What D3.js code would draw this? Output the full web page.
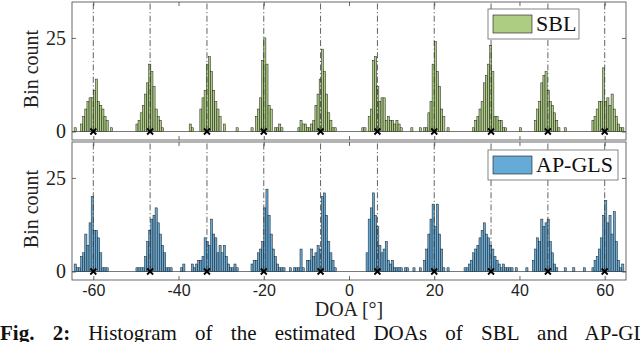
<!DOCTYPE html>
<html>
<head>
<meta charset="utf-8">
<script src="https://cdn.jsdelivr.net/npm/d3@7"></script>
<style>
  body { margin: 0; background: #fff; }
  svg { display: block; }
</style>
</head>
<body>
<svg width="640" height="342"></svg>
<script>
var width = 640;
var height = 342;
var binWidth = 0.5;

// true source directions (dash-dot lines and x markers)
var trueDoas = [-60, -46.67, -33.33, -20, -6.67, 6.67, 20, 33.33, 46.67, 60];
var xTicks = [-60, -40, -20, 0, 20, 40, 60];
var yTicks = [0, 25];

// histogram clusters: left edge of first bin, then counts per 0.5 deg bin
var sblStarts = [-64.5, -63, -50, -37.5, -26.5, -23, -12, 3, 14.5, 16.5, 29, 40, 43.5, 50.5, 57];
var sblCounts = [
  [1],
  [2, 4, 6, 8, 9, 9, 11, 14, 8, 7, 6, 4, 3, 0, 1],
  [2, 3, 5, 7, 10, 13, 18, 16, 12, 6, 4, 3, 1],
  [2, 1, 0, 0, 0, 6, 9, 11, 18, 20, 16, 11, 8, 6, 4, 0, 2],
  [1],
  [1, 0, 4, 6, 9, 19, 25, 18, 7, 6, 0, 1, 1, 2, 1],
  [1, 3, 2, 2, 1, 1, 2, 3, 7, 10, 14, 22, 16, 10, 5, 3, 1, 1],
  [1, 1, 0, 4, 6, 19, 20, 12, 8, 9, 9, 3, 4, 3, 3, 2, 3, 2, 1],
  [1],
  [1, 0, 1, 1, 5, 8, 18, 24, 16, 12, 6, 4, 0, 1],
  [1, 3, 4, 6, 8, 13, 15, 18, 23, 16, 4, 4, 3, 3, 1, 1],
  [1],
  [3, 6, 8, 13, 15, 16, 11, 8, 7, 5, 3, 1],
  [1],
  [3, 4, 6, 8, 8, 17, 8, 9, 7, 10, 6, 4, 2, 1, 1]
];

var apglsStarts = [-64.5, -50, -39.5, -23, -14, -13, 4, 15, 16.5, 17.5, 27, 39, 41.5, 43, 50.5, 52.5, 55, 57];
var apglsCounts = [
  [2, 1, 1, 4, 5, 10, 7, 13, 20, 11, 11, 9, 5, 1, 1, 1],
  [1, 1, 1, 1, 4, 8, 11, 14, 15, 17, 13, 10, 7, 5, 1, 1, 1],
  [1, 2, 0, 0, 0, 2, 1, 2, 3, 3, 4, 9, 8, 7, 14, 10, 9, 5, 7, 5, 7, 4, 2, 1, 1, 2, 1],
  [2, 3, 3, 5, 6, 8, 17, 22, 15, 10, 6, 4, 2, 1, 1, 1],
  [1],
  [1, 1, 1, 6, 1, 0, 3, 3, 6, 4, 5, 7, 6, 20, 21, 15, 8, 5, 3, 1],
  [5, 14, 17, 21, 15, 12, 7, 5, 6, 8, 3, 2, 3, 1, 1, 1, 1, 0, 1, 1],
  [1],
  [1],
  [3, 6, 10, 14, 18, 12, 18, 10, 6, 1, 0, 1],
  [1, 1, 2, 3, 5, 6, 7, 9, 11, 13, 10, 9, 7, 6, 4, 3, 2, 1, 2, 1, 1, 1, 1],
  [1],
  [1],
  [3, 6, 9, 8, 14, 12, 13, 14, 8, 5, 2, 1],
  [1],
  [1],
  [1],
  [1, 3, 4, 6, 9, 15, 19, 13, 15, 10, 16, 8, 3, 1, 2]
];

var panels = [
  {name: 'SBL', starts: sblStarts, counts: sblCounts, fill: '#adcd83', top: 2, bottom: 140,
   legend: {x: 488, y: 9, w: 91, h: 30}},
  {name: 'AP-GLS', starts: apglsStarts, counts: apglsCounts, fill: '#66aad7', top: 142, bottom: 280,
   legend: {x: 488, y: 150, w: 130, h: 30}}
];

var serif = '"Liberation Serif", "Times New Roman", serif';
var sans = '"Liberation Sans", Arial, sans-serif';

var x = d3.scaleLinear().domain([-65, 65]).range([72, 626]);

var svg = d3.select('svg');

// flatten clusters into bins
function toBins(starts, counts) {
  var bins = [];
  for (var i = 0; i < starts.length; i++) {
    for (var j = 0; j < counts[i].length; j++) {
      if (counts[i][j] > 0) {
        bins.push({x0: starts[i] + j * binWidth, x1: starts[i] + (j + 1) * binWidth, n: counts[i][j]});
      }
    }
  }
  return bins;
}

panels.forEach(function(p, idx) {
  var y = d3.scaleLinear().domain([-2.27, 34.6]).range([p.bottom, p.top]);
  var g = svg.append('g');

  // baseline at zero
  g.append('line')
    .attr('x1', x(-65)).attr('x2', x(65))
    .attr('y1', y(0)).attr('y2', y(0))
    .attr('stroke', '#555').attr('stroke-width', 0.8);

  // bars
  g.selectAll('rect.bar')
    .data(toBins(p.starts, p.counts))
    .enter().append('rect')
      .attr('class', 'bar')
      .attr('x', d => x(d.x0))
      .attr('width', d => x(d.x1) - x(d.x0))
      .attr('y', d => y(d.n))
      .attr('height', d => y(0) - y(d.n))
      .attr('fill', p.fill)
      .attr('stroke', '#1a1a1a')
      .attr('stroke-width', 0.5);

  // dash-dot lines at true DOAs
  g.selectAll('line.doa')
    .data(trueDoas)
    .enter().append('line')
      .attr('class', 'doa')
      .attr('x1', d => x(d)).attr('x2', d => x(d))
      .attr('y1', y(0)).attr('y2', p.top)
      .attr('stroke', '#3a3a3a')
      .attr('stroke-width', 0.8)
      .attr('stroke-dasharray', '6,2.5,1.2,2.5');

  // x markers
  var mk = 3;
  trueDoas.forEach(function(d) {
    var cx = x(d), cy = y(0);
    g.append('path')
      .attr('d', 'M' + (cx - mk) + ',' + (cy - mk) + 'L' + (cx + mk) + ',' + (cy + mk) +
                 'M' + (cx - mk) + ',' + (cy + mk) + 'L' + (cx + mk) + ',' + (cy - mk))
      .attr('stroke', '#000').attr('stroke-width', 1.8).attr('fill', 'none');
  });

  // axes with inward ticks
  var axB = g.append('g').attr('transform', 'translate(0,' + p.bottom + ')')
    .call(d3.axisBottom(x).tickValues(xTicks).tickSize(-4).tickPadding(5)
      .tickFormat(idx === 1 ? (d => String(d)) : ''));
  var axT = g.append('g').attr('transform', 'translate(0,' + p.top + ')')
    .call(d3.axisTop(x).tickValues(xTicks).tickSize(-4).tickFormat(''));
  var axL = g.append('g').attr('transform', 'translate(' + x(-65) + ',0)')
    .call(d3.axisLeft(y).tickValues(yTicks).tickSize(-4).tickPadding(6).tickFormat(d => String(d)));
  var axR = g.append('g').attr('transform', 'translate(' + x(65) + ',0)')
    .call(d3.axisRight(y).tickValues(yTicks).tickSize(-4).tickFormat(''));

  [axB, axT, axL, axR].forEach(function(a) {
    a.select('.domain').remove();
    a.selectAll('.tick line').attr('stroke', '#444').attr('stroke-width', 0.8);
  });
  axB.selectAll('text').attr('font-family', sans).attr('font-size', 16).attr('fill', '#222');
  axL.selectAll('text').attr('font-family', serif).attr('font-size', 20).attr('fill', '#222');

  // axes box
  g.append('rect')
    .attr('x', x(-65)).attr('y', p.top)
    .attr('width', x(65) - x(-65)).attr('height', p.bottom - p.top)
    .attr('fill', 'none').attr('stroke', '#444').attr('stroke-width', 0.8);

  // y label
  g.append('text')
    .attr('transform', 'translate(31,' + ((p.top + p.bottom) / 2 - 2) + ') rotate(-90)')
    .attr('text-anchor', 'middle')
    .attr('dominant-baseline', 'central')
    .attr('font-family', serif).attr('font-size', 20).attr('fill', '#222')
    .text('Bin count');

  // legend
  var L = p.legend;
  g.append('rect')
    .attr('x', L.x).attr('y', L.y).attr('width', L.w).attr('height', L.h)
    .attr('fill', '#fff').attr('stroke', '#666').attr('stroke-width', 0.8);
  g.append('rect')
    .attr('x', L.x + 5).attr('y', L.y + 6).attr('width', 39).attr('height', 18)
    .attr('fill', p.fill).attr('stroke', '#1a1a1a').attr('stroke-width', 0.6);
  g.append('text')
    .attr('x', L.x + 48).attr('y', L.y + 22)
    .attr('font-family', serif).attr('font-size', 22).attr('fill', '#111')
    .text(p.name);
});

// x label
svg.append('text')
  .attr('x', x(0)).attr('y', 316)
  .attr('text-anchor', 'middle')
  .attr('font-family', serif).attr('font-size', 20).attr('fill', '#222')
  .text('DOA [°]');

// caption (runs past the right edge as in the source figure)
var cap = svg.append('text')
  .attr('x', 0).attr('y', 340)
  .attr('font-family', serif).attr('font-size', 21).attr('fill', '#111')
  .attr('word-spacing', 13);
cap.append('tspan').attr('font-weight', 'bold').text('Fig. 2:');
cap.append('tspan').attr('dx', 18).text('Histogram of the estimated DOAs of SBL and AP-GLS');
</script>
</body>
</html>
